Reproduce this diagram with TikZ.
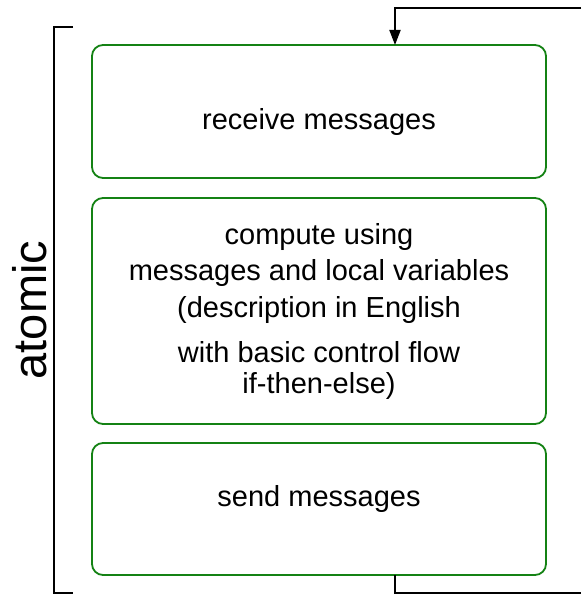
\documentclass[tikz,border=0pt]{standalone}
\usepackage{fontspec}
\setmainfont{Liberation Sans}
\usetikzlibrary{arrows.meta}
\definecolor{boxgreen}{RGB}{20,130,20}
\begin{document}
\begin{tikzpicture}[x=1pt,y=-1pt,
  stagebox/.style={draw=boxgreen, line width=1.8pt, rounded corners=11pt},
  label/.style={font=\fontsize{29}{35}\selectfont, inner sep=0pt},
  wire/.style={draw=black, line width=1.8pt}]
\useasboundingbox (0,0) rectangle (581,594);
% the three stages
\draw[stagebox] (92,45) rectangle (546,178);
\draw[stagebox] (92,198) rectangle (546,424);
\draw[stagebox] (92,443) rectangle (546,575);
\coordinate (rtop) at (395,45);
\coordinate (sbot) at (395,575);
\node[label] (recv) at (319,122) {receive messages};
\node[label] at (319,237) {compute using};
\node[label] at (319,273) {messages and local variables};
\node[label] at (319,310) {(description in English};
\node[label] at (319,352) {with basic control flow};
\node[label] at (319,386) {if-then-else)};
\node[label] (send) at (319,499) {send messages};
% loop back from the send stage to the receive stage
\coordinate (inR) at (581,8);
\coordinate (outR) at (581,593);
\draw[wire, -{Triangle[length=15pt,width=11pt]}] (inR) -- (395,8) -- (rtop);
\draw[wire] (sbot) -- (395,593) -- (outR);
% bracket marking the atomic step
\coordinate (bt) at (73,27);
\coordinate (bb) at (73,593);
\draw[wire] (bt) -- (54,27) -- (54,593) -- (bb);
\node[font=\fontsize{47}{56}\selectfont, rotate=90, inner sep=0pt] (atomic) at (30,310) {atomic};
\end{tikzpicture}
\end{document}
